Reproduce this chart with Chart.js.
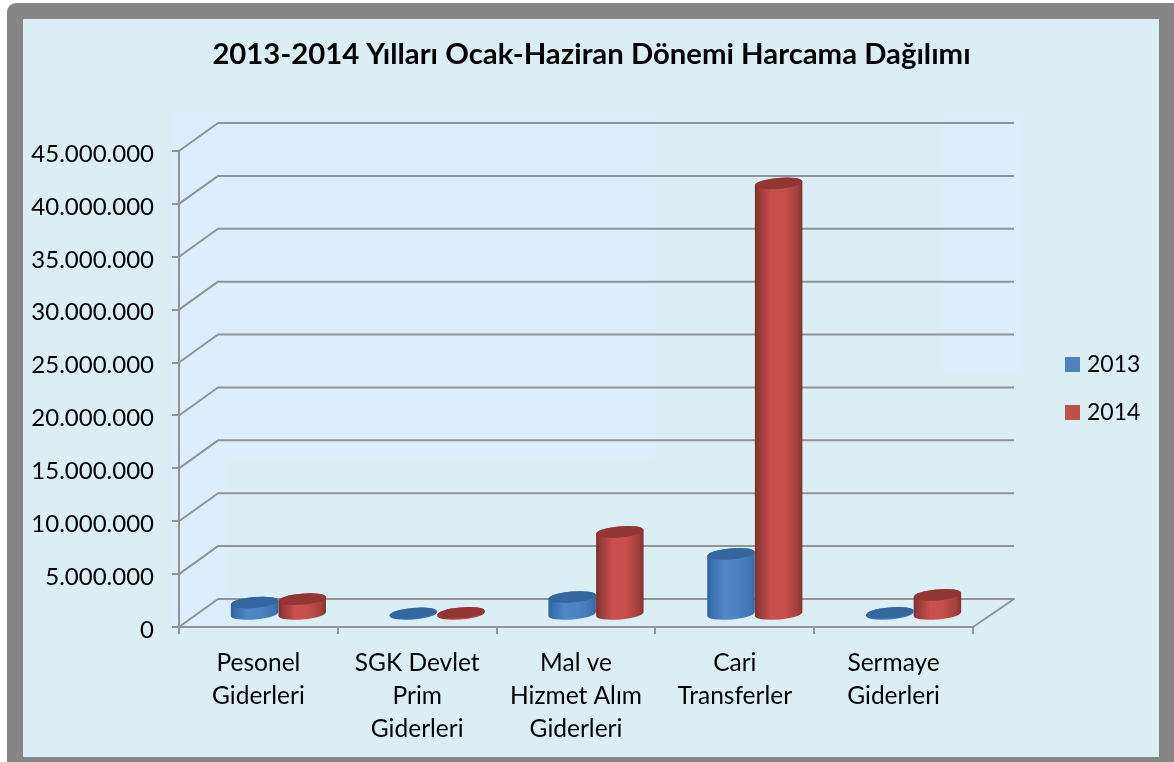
<!DOCTYPE html>
<html><head><meta charset="utf-8">
<style>html,body{margin:0;padding:0;background:#fff}#w{width:1174px;height:762px}canvas{display:block}</style>
<script src="https://cdn.jsdelivr.net/npm/chart.js@4"></script>
</head><body><div id="w"><canvas id="c" width="1174" height="762"></canvas></div>
<script>
const titleText = '2013-2014 Yılları Ocak-Haziran Dönemi Harcama Dağılımı';
const categories = [['Pesonel','Giderleri'],['SGK Devlet','Prim','Giderleri'],['Mal ve','Hizmet Alım','Giderleri'],['Cari','Transferler'],['Sermaye','Giderleri']];
const series2013 = [1180000, 150000, 1700000, 5770000, 200000];
const series2014 = [1500000, 200000, 7850000, 40800000, 1900000];
const yTicks = [0,5000000,10000000,15000000,20000000,25000000,30000000,35000000,40000000,45000000];

const FONT = 'Lato, Carlito, Calibri, sans-serif';
const GRID = '#8f9396';
const DEPTH_L = 39, DEPTH_R = 41, DEPTH_Y = 28;

function fmt(v){ return String(v).replace(/\B(?=(\d{3})+(?!\d))/g,'.'); }

function swatch(color){
  const s = document.createElement('canvas');
  s.width = 15; s.height = 15;
  const k = s.getContext('2d');
  k.fillStyle = color; k.fillRect(0,0,15,15);
  return s;
}

function cylinder(ctx, cx, topY, baseY, w, stops, topColor){
  const rx = w/2, ry = 5.5, rot = -5*Math.PI/180;
  const ex = rx*Math.cos(rot), ey = rx*Math.sin(rot);
  const g = ctx.createLinearGradient(cx-rx,0,cx+rx,0);
  stops.forEach(s=>g.addColorStop(s[0],s[1]));
  ctx.fillStyle = g;
  ctx.beginPath();
  ctx.moveTo(cx-ex, topY-ey);
  ctx.lineTo(cx-ex, baseY-ey);
  ctx.ellipse(cx, baseY, rx, ry, rot, Math.PI, 0, true);
  ctx.lineTo(cx+ex, topY+ey);
  ctx.ellipse(cx, topY, rx, ry, rot, 0, Math.PI, true);
  ctx.closePath();
  ctx.fill();
  ctx.fillStyle = topColor;
  ctx.beginPath();
  ctx.ellipse(cx, topY, rx, ry, rot, 0, Math.PI*2);
  ctx.fill();
}

const STYLES = [
  {stops:[[0,'#2f5f97'],[0.08,'#3a6fad'],[0.35,'#4f86c8'],[0.6,'#4e84c6'],[0.92,'#3f74b3'],[1,'#33639c']], top:'#34669f'},
  {stops:[[0,'#7b2f2c'],[0.08,'#93393a'],[0.35,'#c9514d'],[0.6,'#c8504c'],[0.9,'#a33f3c'],[1,'#7f312e']], top:'#923533'}
];

const scene = {
  id:'scene',
  beforeDraw(chart){
    const c = chart.ctx;
    c.save();
    c.fillStyle='#ffffff'; c.fillRect(0,0,1174,762);
    c.fillStyle='#868686'; c.beginPath(); c.roundRect(7,3,1180,775,9); c.fill();
    c.fillStyle='#dbeef4'; c.fillRect(23,19,1136,738);
    c.fillStyle='#dceefd';
    c.fillRect(173,113,482,347);
    c.fillRect(173,460,53,168);
    c.fillRect(942,113,80,260);
    c.restore();
  },
  beforeDatasetsDraw(chart){
    const c = chart.ctx, y = chart.scales.y, x = chart.scales.x;
    c.save();
    c.strokeStyle = GRID; c.lineWidth = 2; c.lineJoin='round';
    y.ticks.forEach(t=>{
      const p = y.getPixelForValue(t.value);
      c.beginPath();
      c.moveTo(x.left,p);
      c.lineTo(x.left+DEPTH_L,p-DEPTH_Y);
      c.lineTo(x.right+DEPTH_R,p-DEPTH_Y);
      if(t.value===0) c.lineTo(x.right,p);
      c.stroke();
    });
    const dx = (DEPTH_L+DEPTH_R)/4, dy = 12;
    chart.data.datasets.forEach((d,i)=>{
      const st = STYLES[i];
      chart.getDatasetMeta(i).data.forEach(el=>{
        const p = el.getProps(['x','y','base','width'],true);
        cylinder(c, p.x+dx, p.y-dy, p.base-dy, p.width, st.stops, st.top);
      });
    });
    c.restore();
  },
  beforeDatasetDraw(){ return false; },
  afterLayout(chart){
    const t = chart.titleBlock;
    t.left = 23; t.right = 1160;
    const l = chart.legend;
    l.left = 1044.5; l.right = 1160; l.top = 328; l.bottom = 500;
    chart.scales.y.getLabelItems().forEach(i=>{ i.options.translation[1] += 3; });
  }
};

new Chart(document.getElementById('c'),{
  type:'bar',
  data:{labels:categories,datasets:[
    {label:'2013',data:series2013,backgroundColor:'#4f81bd',borderWidth:0},
    {label:'2014',data:series2014,backgroundColor:'#c0504d',borderWidth:0}
  ]},
  plugins:[scene],
  options:{
    responsive:false,animation:false,
    events:[],
    layout:{padding:{left:0,right:201,top:37.4,bottom:0}},
    datasets:{bar:{categoryPercentage:0.6,barPercentage:1}},
    plugins:{
      tooltip:{enabled:false},
      title:{display:true,text:titleText,color:'#000',align:'center',
        font:{family:FONT,size:29.3,weight:'bold',lineHeight:1.2},padding:{top:0,bottom:78.44}},
      legend:{display:true,position:'chartArea',align:'start',
        labels:{boxWidth:15,boxHeight:15,padding:25,color:'#000',font:{family:FONT,size:23},
          usePointStyle:true,pointStyleWidth:6,
          generateLabels(chart){
            const items = Chart.defaults.plugins.legend.labels.generateLabels(chart);
            items.forEach(i=>{ i.pointStyle = swatch(i.fillStyle); });
            return items;
          }}}
    },
    scales:{
      x:{
        afterFit(s){s.height=135;},
        border:{color:GRID,width:2},
        grid:{display:true,drawOnChartArea:false,color:GRID,lineWidth:2,tickLength:7,offset:true},
        ticks:{color:'#000',padding:13,maxRotation:0,minRotation:0,autoSkip:false,font:{family:FONT,size:24.5,lineHeight:1.347}}
      },
      y:{
        min:0,max:45000000,
        afterFit(s){s.width=179;},
        afterBuildTicks(s){s.ticks=yTicks.map(v=>({value:v}));},
        border:{color:GRID,width:2},
        grid:{display:true,drawOnChartArea:false,color:GRID,lineWidth:2,tickLength:7},
        ticks:{color:'#000',padding:18,font:{family:FONT,size:24},callback:v=>fmt(v)}
      }
    }
  }
});
</script></body></html>
